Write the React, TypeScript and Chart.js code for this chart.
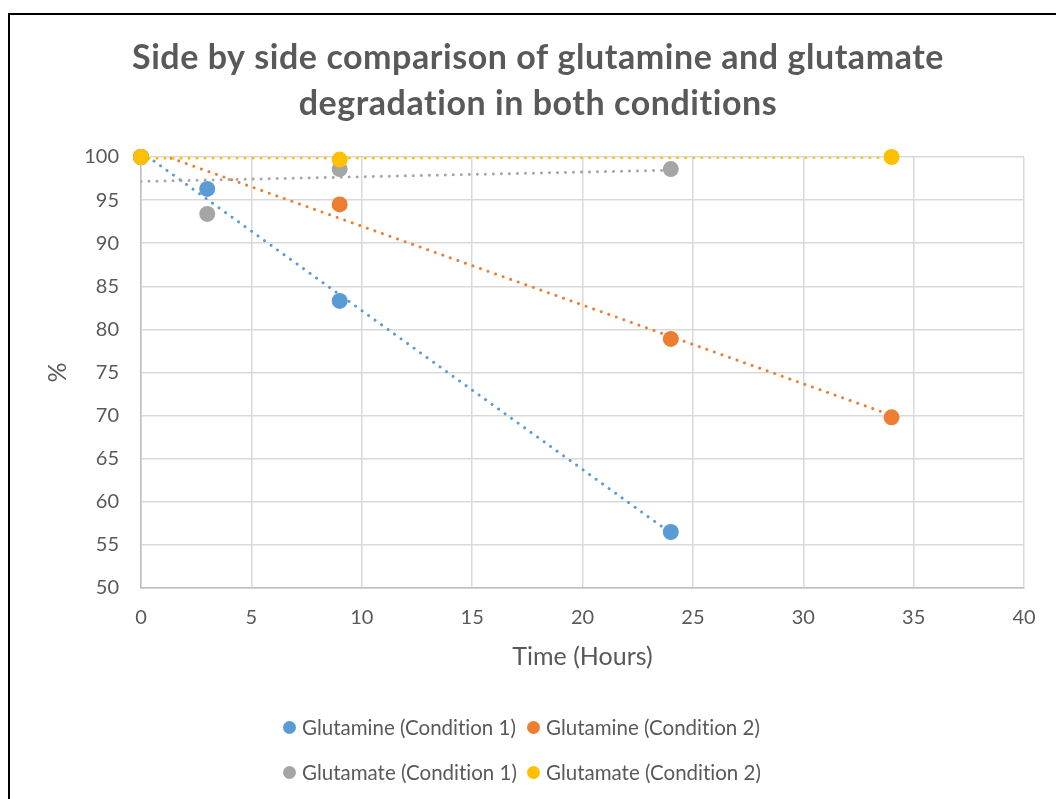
import React, { useEffect, useRef } from "react";
import { Chart, registerables } from "chart.js";

Chart.register(...registerables);

const chartTitle = ["Side by side comparison of glutamine and glutamate", "degradation in both conditions"];
const xAxisTitle = "Time (Hours)";
const yAxisTitle = "%";
const seriesNames = [
  "Glutamine (Condition 1)",
  "Glutamine (Condition 2)",
  "Glutamate (Condition 1)",
  "Glutamate (Condition 2)",
];
const seriesColors = ["#5B9BD5", "#ED7D31", "#A5A5A5", "#FFC000"];

const glutamineC1Hours = [0, 3, 9, 24];
const glutamineC1Values = [100, 96.3, 83.3, 56.5];
const glutamineC2Hours = [0, 9, 24, 34];
const glutamineC2Values = [100, 94.5, 78.9, 69.8];
const glutamateC1Hours = [0, 3, 9, 24];
const glutamateC1Values = [100, 93.4, 98.6, 98.6];
const glutamateC2Hours = [0, 9, 34];
const glutamateC2Values = [100, 99.7, 100];

const xMin = 0;
const xMax = 40;
const xStep = 5;
const yMin = 50;
const yMax = 100;
const yStep = 5;

const FONT = "Lato, 'Open Sans', sans-serif";
const TEXT = "#595959";

function toPoints(xs: number[], ys: number[]) {
  return xs.map((x, i) => ({ x, y: ys[i] }));
}

// Linear least-squares trendline over the series' own x range (as the spreadsheet does)
function trend(xs: number[], ys: number[]) {
  const n = xs.length;
  const mx = xs.reduce((a, b) => a + b, 0) / n;
  const my = ys.reduce((a, b) => a + b, 0) / n;
  let sxy = 0;
  let sxx = 0;
  for (let i = 0; i < n; i++) {
    sxy += (xs[i] - mx) * (ys[i] - my);
    sxx += (xs[i] - mx) * (xs[i] - mx);
  }
  const slope = sxx === 0 ? 0 : sxy / sxx;
  const b = my - slope * mx;
  const x0 = Math.min(...xs);
  const x1 = Math.max(...xs);
  return [
    { x: x0, y: b + slope * x0 },
    { x: x1, y: b + slope * x1 },
  ];
}

const titlePlugin = {
  id: "twoLineTitle",
  afterDraw(chart: any) {
    const ctx = chart.ctx as CanvasRenderingContext2D;
    ctx.save();
    ctx.font = `bold 34px ${FONT}`;
    ctx.fillStyle = TEXT;
    ctx.textAlign = "center";
    ctx.textBaseline = "middle";
    try {
      (ctx as any).letterSpacing = "0.55px";
    } catch (e) {}
    const cx = 538;
    chartTitle.forEach((line, i) => {
      ctx.fillText(line, cx, 58 + i * 46);
    });
    ctx.restore();
  },
};

export default function App() {
  const ref = useRef<HTMLCanvasElement | null>(null);

  useEffect(() => {
    if (!ref.current) return;
    const hours = [glutamineC1Hours, glutamineC2Hours, glutamateC1Hours, glutamateC2Hours];
    const values = [glutamineC1Values, glutamineC2Values, glutamateC1Values, glutamateC2Values];

    const trendSets: any[] = hours.map((xs, i) => ({
      label: seriesNames[i] + " trend",
      data: trend(xs, values[i]),
      showLine: true,
      borderColor: seriesColors[i],
      borderWidth: 3,
      borderDash: [0.01, 8],
      borderCapStyle: "round",
      pointRadius: 0,
      pointHoverRadius: 0,
      fill: false,
      order: 10 + (3 - i),
    }));

    const pointSets: any[] = hours.map((xs, i) => ({
      label: seriesNames[i],
      data: toPoints(xs, values[i]),
      showLine: false,
      backgroundColor: seriesColors[i],
      borderColor: seriesColors[i],
      pointRadius: 8,
      pointBorderWidth: 0,
      clip: false,
      order: 3 - i,
    }));

    const chart = new Chart(ref.current, {
      type: "scatter",
      data: { datasets: [...trendSets, ...pointSets] },
      options: {
        responsive: false,
        animation: false,
        layout: { padding: { top: 157, left: 40, right: 32, bottom: 125 } },
        plugins: {
          legend: { display: false },
          tooltip: { enabled: false },
          title: { display: false },
        },
        scales: {
          x: {
            type: "linear",
            min: xMin,
            max: xMax,
            ticks: {
              stepSize: xStep,
              color: TEXT,
              font: { family: FONT, size: 20 },
              padding: 18,
              maxRotation: 0,
            },
            grid: { color: "#D9D9D9", lineWidth: 1.5, drawTicks: false },
            border: { color: "#BFBFBF", width: 1.5 },
            title: {
              display: true,
              text: xAxisTitle,
              color: TEXT,
              font: { family: FONT, size: 25, lineHeight: 1.2 },
              padding: { top: 0, bottom: 2 },
            },
            afterFit: (s: any) => {
              s.height = 86;
            },
          },
          y: {
            type: "linear",
            min: yMin,
            max: yMax,
            ticks: {
              stepSize: yStep,
              color: TEXT,
              font: { family: FONT, size: 20 },
              padding: 22,
            },
            grid: { color: "#D9D9D9", lineWidth: 1.5, drawTicks: false },
            border: { color: "#BFBFBF", width: 1.5 },
            title: {
              display: true,
              text: yAxisTitle,
              color: TEXT,
              font: { family: FONT, size: 25, lineHeight: 1.2 },
              padding: { top: 3, bottom: 0 },
            },
            afterFit: (s: any) => {
              s.width = 101;
            },
          },
        },
      },
      plugins: [titlePlugin],
    });
    return () => chart.destroy();
  }, []);

  const legendRows = [
    [0, 1],
    [2, 3],
  ];
  const colLeft = [283, 527];
  const rowCenter = [727, 772];

  return (
    <div>
      <div
        style={{
          position: "fixed",
          left: 8,
          top: 13,
          width: 1200,
          height: 1000,
          borderLeft: "2px solid #000",
          borderTop: "2px solid #000",
          boxSizing: "border-box",
        }}
      />
      <canvas
        ref={ref}
        width={1056}
        height={799}
        style={{ position: "fixed", left: 0, top: 0, width: 1056, height: 799 }}
      />
      {legendRows.map((row, r) =>
        row.map((si, c) => (
          <div
            key={si}
            style={{
              position: "fixed",
              left: colLeft[c],
              top: rowCenter[r] - 14,
              height: 28,
              display: "flex",
              alignItems: "center",
              fontFamily: FONT,
              fontSize: 20.5,
              color: TEXT,
              whiteSpace: "nowrap",
              fontVariantLigatures: "none",
            }}
          >
            <span
              style={{
                display: "inline-block",
                width: 13,
                height: 13,
                borderRadius: "50%",
                background: seriesColors[si],
                marginRight: 6,
              }}
            />
            <span>{seriesNames[si]}</span>
          </div>
        ))
      )}
    </div>
  );
}
